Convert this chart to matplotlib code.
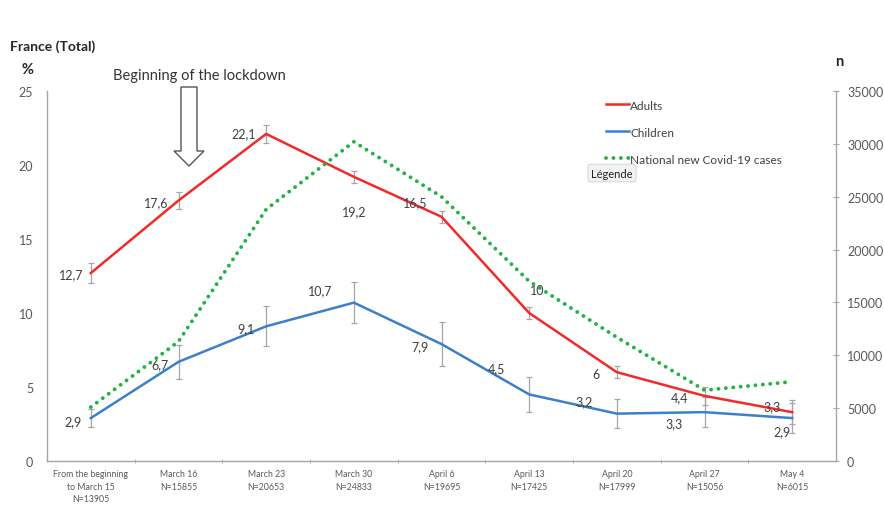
import matplotlib
matplotlib.use("Agg")
import matplotlib.pyplot as plt
from matplotlib.patches import Polygon
from matplotlib.lines import Line2D

plt.rcParams['font.family'] = ['Lato', 'DejaVu Sans']

categories = ["From the beginning\nto March 15\nN=13905", "March 16\nN=15855", "March 23\nN=20653",
              "March 30\nN=24833", "April 6\nN=19695", "April 13\nN=17425", "April 20\nN=17999",
              "April 27\nN=15056", "May 4\nN=6015"]
adults = [12.7, 17.6, 22.1, 19.2, 16.5, 10, 6, 4.4, 3.3]
adults_err = [0.7, 0.6, 0.6, 0.4, 0.4, 0.4, 0.4, 0.6, 0.8]
children = [2.9, 6.7, 9.1, 10.7, 7.9, 4.5, 3.2, 3.3, 2.9]
children_err = [0.6, 1.15, 1.35, 1.4, 1.5, 1.2, 1.0, 1.0, 1.0]
covid_cases = [5100, 11300, 23800, 30200, 25000, 17000, 11700, 6700, 7500]

adult_label_offsets = [(-20, -1), (-22, -2), (-23, 1), (0, -34), (-26, 15), (8, 23), (-21, -2), (-25, -1), (-20, 6)]
child_label_offsets = [(-18, -3), (-19, -2), (-20, -2), (-34, 12), (-22, -2), (-33, 26), (-33, 12), (-30, -11), (-10, -13)]

RED = "#F22A2A"
BLUE = "#3B80C8"
GREEN = "#22B345"
GREY = "#A6A6A6"
TXT = "#404040"
DOTS = (0, (0.01, 1.9))

fig = plt.figure(figsize=(8.84, 5.06), dpi=100)
ax = fig.add_axes([47 / 884, 44 / 506, 789 / 884, 370 / 506])
ax2 = ax.twinx()

x = list(range(len(categories)))

ax.errorbar(x, adults, yerr=adults_err, fmt='none', ecolor=GREY, elinewidth=0.9, capsize=2, capthick=0.9, zorder=2)
ax.errorbar(x, children, yerr=children_err, fmt='none', ecolor=GREY, elinewidth=0.9, capsize=2, capthick=0.9, zorder=2)
ax.plot(x, adults, color=RED, lw=1.8, zorder=3)
ax.plot(x, children, color=BLUE, lw=1.8, zorder=3)
ax2.plot(x, covid_cases, color=GREEN, lw=2.8, linestyle=DOTS, dash_capstyle='round', zorder=3)

for xi, v, off in zip(x, adults, adult_label_offsets):
    ax.annotate(f"{v:g}".replace(".", ","), (xi, v), xytext=off, textcoords='offset pixels',
                ha='center', va='center', fontsize=9, color=TXT, zorder=5)
for xi, v, off in zip(x, children, child_label_offsets):
    ax.annotate(f"{v:g}".replace(".", ","), (xi, v), xytext=off, textcoords='offset pixels',
                ha='center', va='center', fontsize=9, color=TXT, zorder=5)

ax.set_xlim(-0.5, len(categories) - 0.5)
ax.set_ylim(0, 25)
ax2.set_ylim(0, 35000)
ax.set_yticks([0, 5, 10, 15, 20, 25])
ax2.set_yticks(range(0, 35001, 5000))
ax.set_xticks(x)
ax.set_xticklabels(categories, fontsize=6.3, color="#595959", linespacing=1.5)
ax.set_xticks([i - 0.5 for i in range(1, len(categories))], minor=True)
ax.tick_params(axis='x', which='major', length=0, pad=6)
ax.tick_params(axis='x', which='minor', length=3, color=GREY, direction='inout')
ax.tick_params(axis='y', length=0, labelsize=9, labelcolor="#595959", pad=10)
ax2.tick_params(axis='y', length=4, direction='inout', color=GREY, labelsize=9, labelcolor="#595959", pad=6)

for a in (ax, ax2):
    a.spines['top'].set_visible(False)
    for s in ('left', 'right', 'bottom'):
        a.spines[s].set_color(GREY)
        a.spines[s].set_linewidth(1.0)
ax.spines['right'].set_visible(False)
ax2.spines['left'].set_visible(False)
ax2.spines['bottom'].set_visible(False)

fig.text(10 / 884, 1 - 47 / 506, "France (Total)", fontsize=10, fontweight='bold', color="#262626", va='center')
fig.text(22 / 884, 1 - 70 / 506, "%", fontsize=10.5, fontweight='bold', color="#262626", va='center')
fig.text(835 / 884, 1 - 62 / 506, "n", fontsize=10.5, fontweight='bold', color="#262626", va='center')
fig.text(199 / 884, 1 - 76 / 506, "Beginning of the lockdown", fontsize=10.5, color="#333333", ha='center', va='center')

# Hollow arrow marking the lockdown start (outline given in figure pixels)
arrow_px = [(181, 88), (197, 88), (197, 152), (204, 152), (189, 167), (174, 152), (181, 152)]
arrow_fig = [(xp / 884, 1 - yp / 506) for xp, yp in arrow_px]
fig.patches.append(Polygon(arrow_fig, closed=True, facecolor='white', edgecolor='#555555', lw=1.0,
                           transform=fig.transFigure, figure=fig))

handles = [Line2D([], [], color=RED, lw=1.8), Line2D([], [], color=BLUE, lw=1.8),
           Line2D([], [], color=GREEN, lw=2.8, linestyle=DOTS, dash_capstyle='round')]
leg = ax.legend(handles, ["Adults", "Children", "National new Covid-19 cases"], loc='upper left',
                bbox_to_anchor=(595 / 884, 1 - 90 / 506), bbox_transform=fig.transFigure,
                frameon=False, fontsize=8.5, handlelength=2.0, handletextpad=0.1, labelspacing=1.35)
for t in leg.get_texts():
    t.set_color(TXT)

fig.text(612 / 884, 1 - 174 / 506, "Légende", fontsize=8, color="#222222", ha='center', va='center',
         bbox=dict(boxstyle='round,pad=0.3', facecolor='#F2F2F2', edgecolor='#D0D0D0', lw=0.6))

fig.savefig("out.png", dpi=100, facecolor='white')
